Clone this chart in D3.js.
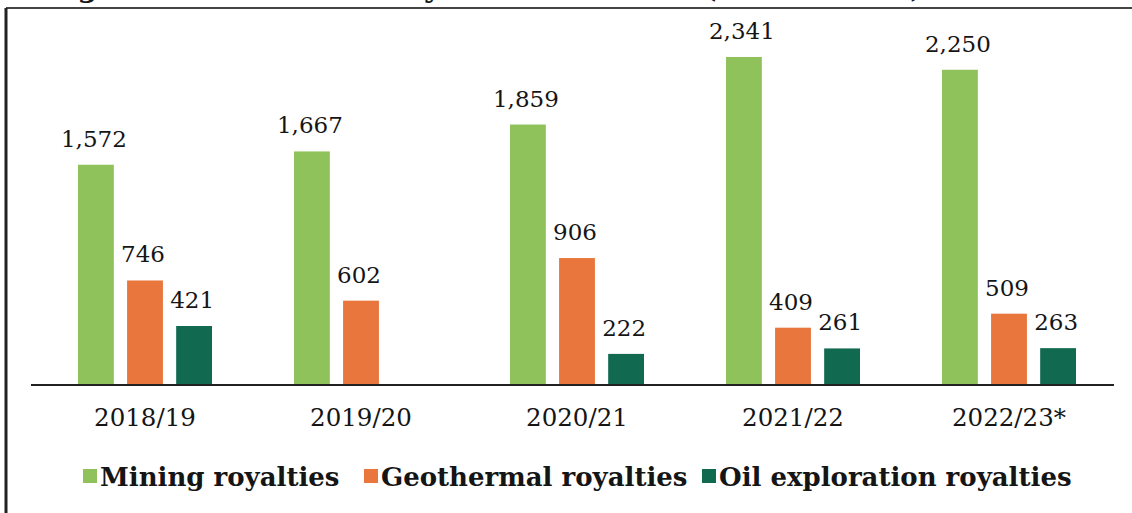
<!DOCTYPE html>
<html lang="en">
<head>
<meta charset="UTF-8">
<title>Royalties</title>
<style>
  body { margin: 0; background: #fff; }
  text { font-family: "DejaVu Serif", Georgia, serif; fill: #151515; }
</style>
</head>
<body>
<div id="chart"></div>
<script src="https://d3js.org/d3.v7.min.js"></script>
<script>
// chart values
const years = ["2018/19", "2019/20", "2020/21", "2021/22", "2022/23*"];
const seriesNames = ["Mining royalties", "Geothermal royalties", "Oil exploration royalties"];
const mining = [1572, 1667, 1859, 2341, 2250];
const geothermal = [746, 602, 906, 409, 509];
const oil = [421, null, 222, 261, 263];
const colors = ["#8fc25a", "#e9763c", "#11694f"];

const W = 1132, H = 513;
const svg = d3.select("#chart").append("svg")
    .attr("width", W)
    .attr("height", H);

// frame of the scanned figure
svg.append("line").attr("x1", 6).attr("x2", W).attr("y1", 8).attr("y2", 8)
    .attr("stroke", "#444").attr("stroke-width", 2);
svg.append("line").attr("x1", 6).attr("x2", 6).attr("y1", 8).attr("y2", H)
    .attr("stroke", "#222").attr("stroke-width", 3);

// title, mostly cut off at the top edge
svg.append("text")
    .attr("x", 924).attr("y", -3)
    .attr("text-anchor", "end")
    .style("font-weight", "bold")
    .style("font-size", "29px")
    .text("Figure 2.4: Trend of Royalties Collected (KSh Million)");

const baseY = 385;
const x = d3.scaleBand().domain(years).range([37, 1117]).paddingInner(0).paddingOuter(0);
const inner = d3.scaleBand().domain(seriesNames).range([-67, 67]).paddingInner(0.27).paddingOuter(0);
const y = d3.scaleLinear().domain([0, 2341]).range([baseY, 57]);

const rows = [];
years.forEach((yr, i) => {
  [mining, geothermal, oil].forEach((arr, j) => {
    if (arr[i] != null) rows.push({year: yr, series: seriesNames[j], value: arr[i], c: colors[j]});
  });
});

const g = svg.append("g");
g.selectAll("rect").data(rows).enter().append("rect")
    .attr("x", d => x(d.year) + x.bandwidth() / 2 + inner(d.series))
    .attr("y", d => y(d.value))
    .attr("width", inner.bandwidth())
    .attr("height", d => baseY - y(d.value))
    .attr("fill", d => d.c);

g.selectAll("text.val").data(rows).enter().append("text")
    .attr("class", "val")
    .attr("x", d => x(d.year) + x.bandwidth() / 2 + inner(d.series) + inner.bandwidth() / 2 - 2)
    .attr("y", d => y(d.value) - 18)
    .attr("text-anchor", "middle")
    .style("font-size", "23px")
    .text(d => d3.format(",")(d.value));

// baseline axis
const axis = svg.append("g").attr("transform", "translate(0," + baseY + ")")
    .call(d3.axisBottom(x).tickSize(0).tickPadding(24));
axis.select(".domain").attr("d", "M31,0H1114").attr("stroke", "#222").attr("stroke-width", 2);
axis.selectAll(".tick text")
    .style("font-family", "'DejaVu Serif', Georgia, serif")
    .style("font-size", "24.5px")
    .attr("fill", "#151515");

// legend
const legend = svg.append("g").attr("transform", "translate(0,476)");
const legX = [83, 364, 702];
seriesNames.forEach((s, i) => {
  legend.append("rect").attr("x", legX[i]).attr("y", -7).attr("width", 14).attr("height", 14)
      .attr("fill", colors[i]);
  legend.append("text").attr("x", legX[i] + 17).attr("y", 10)
      .style("font-weight", "bold").style("font-size", "26px")
      .text(s);
});
</script>
</body>
</html>
